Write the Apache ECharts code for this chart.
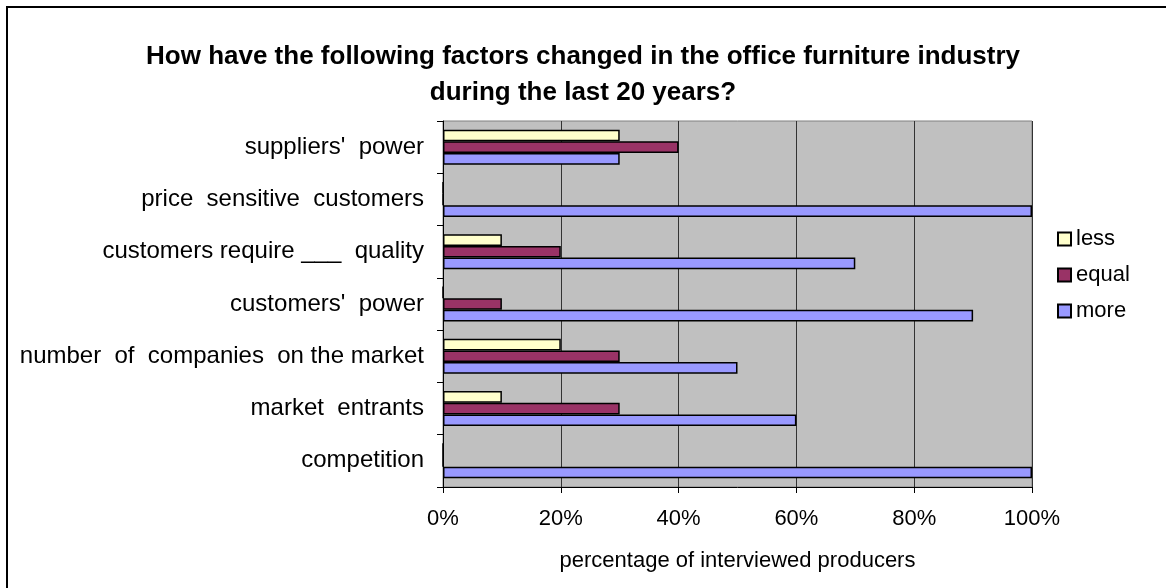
<!DOCTYPE html>
<html>
<head>
<meta charset="utf-8">
<script src="https://cdn.jsdelivr.net/npm/echarts@6/dist/echarts.min.js"></script>
<style>
  html, body { margin: 0; padding: 0; background: #ffffff; }
  #chart { width: 1166px; height: 588px; }
</style>
</head>
<body>
<div id="chart"></div>
<script>
// Survey factors, listed bottom to top as they sit on the axis
const categories = [
  'competition',
  'market  entrants',
  'number  of  companies  on the market',
  "customers'  power",
  'customers require ___  quality',
  'price  sensitive  customers',
  "suppliers'  power"
];
// Share of interviewed producers (%) per answer
const lessValues  = [0, 10, 20, 0, 10, 0, 30];
const equalValues = [0, 30, 30, 10, 20, 0, 40];
const moreValues  = [100, 60, 50, 90, 70, 100, 30];
const legendNames = ['less', 'equal', 'more'];

const FONT = '"Liberation Sans", Arial, sans-serif';

const chart = echarts.init(document.getElementById('chart'), null, { renderer: 'canvas' });

const barStyle = (color) => ({ color: color, borderColor: '#000000', borderWidth: 1.5 });

chart.setOption({
  animation: false,
  backgroundColor: '#ffffff',
  textStyle: { fontFamily: FONT, color: '#000000' },
  graphic: [{
    // chart frame; its right and bottom edges run past the page
    type: 'rect',
    shape: { x: 7, y: 7, width: 1200, height: 620 },
    style: { fill: 'none', stroke: '#000000', lineWidth: 2 },
    silent: true,
    z: 100
  }],
  title: {
    text: 'How have the following factors changed in the office furniture industry\nduring the last 20 years?',
    left: 'center',
    top: 34,
    textStyle: { fontFamily: FONT, fontSize: 26, fontWeight: 'bold', color: '#000000', lineHeight: 36 }
  },
  legend: {
    data: legendNames,
    orient: 'vertical',
    left: 1052,
    top: 223,
    itemWidth: 13,
    itemHeight: 13,
    itemGap: 14,
    icon: 'rect',
    textStyle: { fontFamily: FONT, fontSize: 22, color: '#000000' }
  },
  grid: {
    left: 443,
    top: 121,
    width: 589,
    height: 366,
    show: true,
    backgroundColor: '#C0C0C0',
    borderColor: '#808080',
    borderWidth: 1,
    containLabel: false
  },
  xAxis: {
    type: 'value',
    min: 0,
    max: 100,
    interval: 20,
    name: 'percentage of interviewed producers',
    nameLocation: 'middle',
    nameGap: 63,
    nameTextStyle: { fontFamily: FONT, fontSize: 22, color: '#000000' },
    axisLine: { show: true, lineStyle: { color: '#000000', width: 1 } },
    axisTick: { show: true, length: 6, lineStyle: { color: '#000000' } },
    axisLabel: { formatter: '{value}%', fontFamily: FONT, fontSize: 22, color: '#000000', margin: 21 },
    splitLine: { show: true, lineStyle: { color: '#333333', width: 1 } }
  },
  yAxis: {
    type: 'category',
    data: categories,
    axisLine: { show: true, lineStyle: { color: '#000000', width: 1 } },
    axisTick: { show: true, length: 6, interval: 0, lineStyle: { color: '#000000' } },
    axisLabel: { fontFamily: FONT, fontSize: 24, color: '#000000', margin: 19, interval: 0 },
    splitLine: { show: false }
  },
  series: [
    { name: 'less',  type: 'bar', data: lessValues,  barGap: '0%', barCategoryGap: '33%', itemStyle: barStyle('#FFFFCC') },
    { name: 'equal', type: 'bar', data: equalValues, barGap: '0%', barCategoryGap: '33%', itemStyle: barStyle('#993366') },
    { name: 'more',  type: 'bar', data: moreValues,  barGap: '0%', barCategoryGap: '33%', itemStyle: barStyle('#9999FF') }
  ]
});
</script>
</body>
</html>
